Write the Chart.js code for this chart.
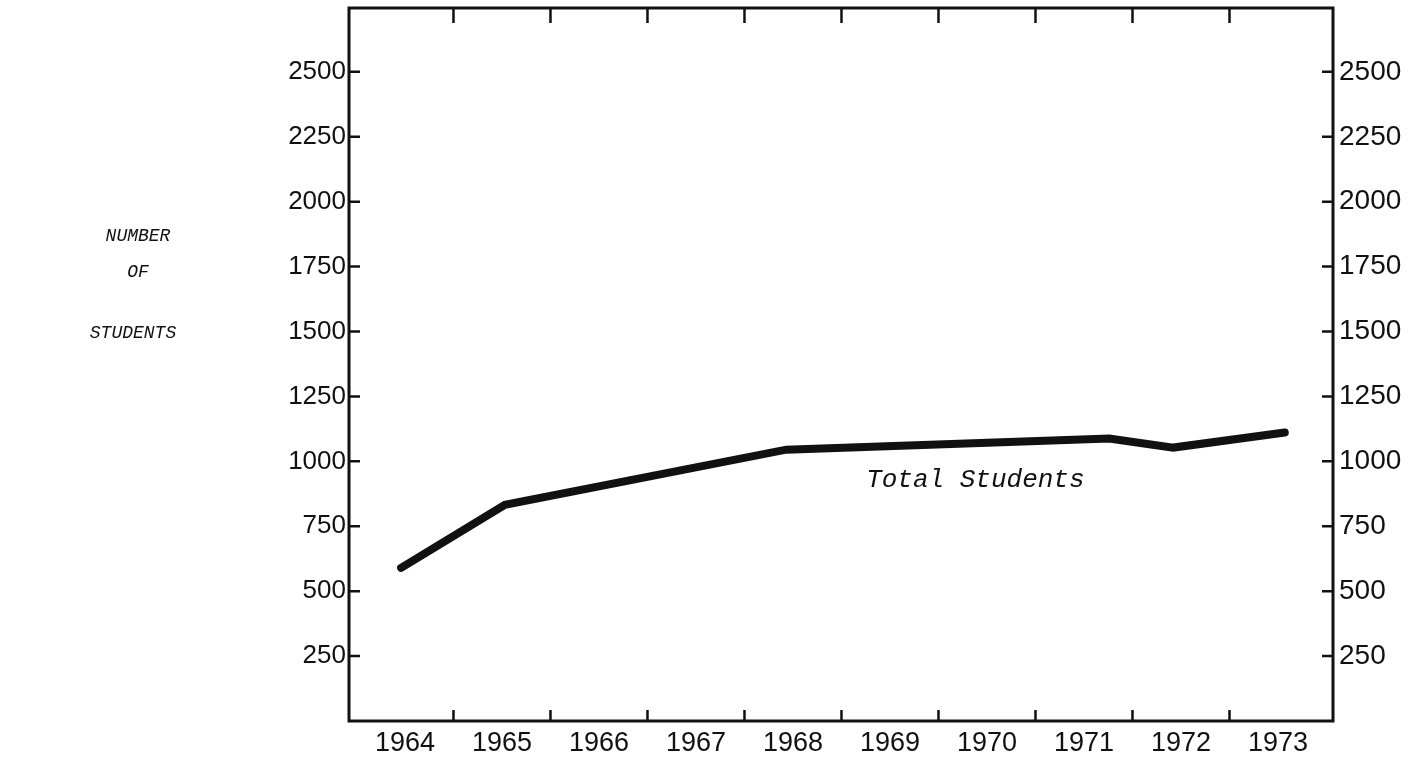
<!DOCTYPE html>
<html><head><meta charset="utf-8">
<script src="https://cdn.jsdelivr.net/npm/chart.js@4"></script>
<style>html,body{margin:0;padding:0;background:#fff;}canvas{display:block;}</style>
</head><body>
<canvas id="c" width="1419" height="758"></canvas>
<script>
// ---- data ----
const years = [1964, 1965, 1966, 1967, 1968, 1969, 1970, 1971, 1972, 1973];
const yTicks = [250, 500, 750, 1000, 1250, 1500, 1750, 2000, 2250, 2500];
// positions of the drawn vertices along the year axis
const pointYears = [1963.96, 1965.03, 1967.93, 1971.26, 1971.92, 1973.07];
const totalStudents = [590, 833, 1045, 1088, 1053, 1111];
const seriesLabel = 'Total Students';
const seriesLabelPos = [1969.88, 928];
const axisTitle = ['NUMBER', 'OF', 'STUDENTS'];

const INK = '#111';
const MONO = '"Liberation Mono", "DejaVu Sans Mono", monospace';
const SANS = '"Liberation Sans", Arial, sans-serif';

const framePlugin = {
  id: 'frame',
  afterDatasetsDraw(chart) {
    const { ctx, chartArea: a, scales: { x, y } } = chart;
    ctx.save();
    ctx.strokeStyle = INK;
    ctx.lineWidth = 3;
    ctx.strokeRect(a.left, a.top, a.right - a.left, a.bottom - a.top);
    ctx.lineWidth = 2.5;
    ctx.beginPath();
    yTicks.forEach(v => {
      const py = y.getPixelForValue(v);
      ctx.moveTo(a.left, py); ctx.lineTo(a.left + 11, py);
      ctx.moveTo(a.right, py); ctx.lineTo(a.right - 11, py);
    });
    years.slice(0, -1).forEach(v => {
      const px = x.getPixelForValue(v + 0.5);
      ctx.moveTo(px, a.bottom); ctx.lineTo(px, a.bottom - 11);
      ctx.moveTo(px, a.top); ctx.lineTo(px, a.top + 15);
    });
    ctx.stroke();

    ctx.fillStyle = INK;
    ctx.textAlign = 'center';
    ctx.textBaseline = 'middle';
    ctx.font = 'italic 26px ' + MONO;
    ctx.fillText(seriesLabel, x.getPixelForValue(seriesLabelPos[0]), y.getPixelForValue(seriesLabelPos[1]));

    ctx.font = 'italic 18px ' + MONO;
    const tx = [138, 138, 133], ty = [236, 272, 333];
    axisTitle.forEach((t, i) => ctx.fillText(t, tx[i], ty[i]));
    ctx.restore();
  }
};

const setTicks = list => scale => { scale.ticks = list.map(v => ({ value: v })); };
const fixV = w => s => { s.width = w; s.paddingTop = 0; s.paddingBottom = 0; };
const fixH = h => s => { s.height = h; s.paddingLeft = 0; s.paddingRight = 0; };

new Chart(document.getElementById('c'), {
  type: 'line',
  data: {
    datasets: [{
      label: seriesLabel,
      data: pointYears.map((px, i) => ({ x: px, y: totalStudents[i] })),
      borderColor: INK,
      borderWidth: 8,
      borderCapStyle: 'round',
      borderJoinStyle: 'miter',
      pointRadius: 0,
      tension: 0,
      fill: false
    }]
  },
  options: {
    responsive: false,
    animation: false,
    layout: { padding: { top: 8, left: 0, right: 0, bottom: 0 } },
    plugins: { legend: { display: false }, tooltip: { enabled: false } },
    scales: {
      x: {
        type: 'linear', position: 'bottom',
        min: 1963.423, max: 1973.567,
        afterBuildTicks: setTicks(years),
        afterFit: fixH(37),
        grid: { display: false, drawTicks: false },
        border: { display: false },
        ticks: { color: INK, font: { family: SANS, size: 27 }, padding: 6, maxRotation: 0, autoSkip: false, callback: v => String(v) }
      },
      y: {
        type: 'linear', position: 'left',
        min: 0, max: 2746,
        afterBuildTicks: setTicks(yTicks),
        afterFit: fixV(349),
        grid: { display: false, drawTicks: false },
        border: { display: false },
        ticks: { color: INK, font: { family: SANS, size: 26 }, padding: 3, autoSkip: false, callback: v => String(v) }
      },
      y2: {
        type: 'linear', position: 'right',
        min: 0, max: 2746,
        afterBuildTicks: setTicks(yTicks),
        afterFit: fixV(86),
        grid: { display: false, drawTicks: false },
        border: { display: false },
        ticks: { color: INK, font: { family: SANS, size: 28 }, padding: 6, autoSkip: false, callback: v => String(v) }
      }
    }
  },
  plugins: [framePlugin]
});
</script>
</body></html>
